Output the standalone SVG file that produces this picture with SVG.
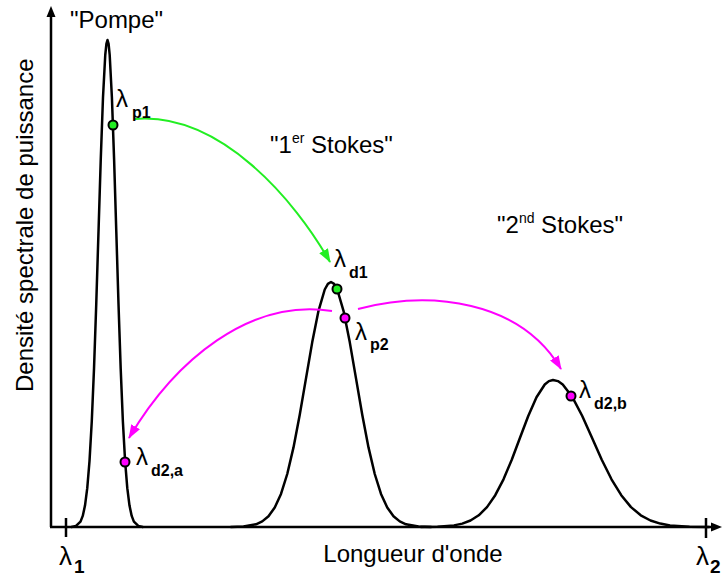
<svg xmlns="http://www.w3.org/2000/svg" width="722" height="576" viewBox="0 0 722 576">
<style>
text{font-family:"Liberation Sans",Arial,sans-serif;fill:#000}
.t{font-size:24px}
.l{font-size:24px}
.s{font-size:16px;font-weight:bold}
.curve{fill:none;stroke:#000;stroke-width:2.5;stroke-linejoin:round;stroke-linecap:round}
.axis{fill:none;stroke:#000;stroke-width:2.5}
.dg{fill:#22ee22;stroke:#000;stroke-width:2}
.dm{fill:#ff00ff;stroke:#000;stroke-width:2}
.ag{fill:none;stroke:#22ee22;stroke-width:2;marker-end:url(#hg)}
.am{fill:none;stroke:#ff00ff;stroke-width:2;marker-end:url(#hm)}
</style>
<defs>
<marker id="hg" markerUnits="userSpaceOnUse" markerWidth="14" markerHeight="10" refX="13" refY="5" orient="auto"><path d="M0,0 L14,5 L0,10 z" fill="#22ee22"/></marker>
<marker id="hm" markerUnits="userSpaceOnUse" markerWidth="14" markerHeight="10" refX="13" refY="5" orient="auto"><path d="M0,0 L14,5 L0,10 z" fill="#ff00ff"/></marker>
</defs>
<g id="axes">
<line class="axis" x1="51" y1="527" x2="51" y2="14"/>
<path d="M51,6 L55.5,17 L46.5,17 z" fill="#000"/>
<line class="axis" x1="50" y1="527" x2="714" y2="527"/>
<path d="M722,527 L711,522.5 L711,531.5 z" fill="#000"/>
<line class="axis" x1="66" y1="518" x2="66" y2="537"/>
<line class="axis" x1="706" y1="518" x2="706" y2="538"/>
<text x="59" y="565" style="font-size:26px">λ</text><text x="74" y="573" style="font-size:19px;font-weight:bold">1</text>
<text x="696" y="565" style="font-size:26px">λ</text><text x="710" y="573" style="font-size:19px;font-weight:bold">2</text>
<text class="l" x="413" y="562" text-anchor="middle">Longueur d'onde</text>
<text class="l" transform="translate(33,392) rotate(-90)">Densité spectrale de puissance</text>
</g>
<g id="pompe">
<polyline class="curve" points="71.5,527 76,525.9 80.5,521.6 82.75,515.9 85,505.6 87.25,488.2 89.5,461.1 91.75,421.7 94,368.9 96.25,304 98.5,231.6 100.75,159.4 103,97.2 105.25,55 106.4,43.8 107.5,40 108.6,43.8 109.7,55 111.9,97.2 114.1,159.4 116.3,231.6 118.5,304 120.7,368.9 122.9,421.7 125.1,461.1 127.3,488.2 129.5,505.6 131.7,515.9 133.9,521.6 138.3,525.9 142.7,527"/>
<text class="t" x="70" y="28">"Pompe"</text>
</g>
<g id="stokes1">
<polyline class="curve" points="231,527 243.5,526.5 256,524.3 262.25,521.4 268.5,516.2 274.75,507.5 281,493.9 287.25,474 293.5,447.4 299.75,414.8 306,378.4 312.25,342.1 318.5,310.8 324.75,289.5 327.9,283.9 331,282 334.1,283.9 337.25,289.5 343.5,310.8 349.75,342.1 356,378.4 362.25,414.8 368.5,447.4 374.75,474 381,493.9 387.25,507.5 393.5,516.2 399.75,521.4 406,524.3 418.5,526.5 431,527"/>
<text class="t" x="270" y="153">"1<tspan style="font-size:14px" dy="-10">er</tspan><tspan dy="10"> Stokes"</tspan></text>
</g>
<g id="stokes2">
<polyline class="curve" points="421,527 437.5,526.7 454,525.4 462.25,523.6 470.5,520.5 478.75,515.3 487,507.1 495.25,495.2 503.5,479.3 511.75,459.7 520,437.8 528.25,416 536.5,397.3 544.75,384.5 548.9,381.1 553,380 557.9,381.1 562.75,384.5 572.5,397.3 582.25,416 592,437.8 601.75,459.7 611.5,479.3 621.25,495.2 631,507.1 640.75,515.3 650.5,520.5 660.25,523.6 670,525.4 689.5,526.7 709,527"/>
<text class="t" x="497" y="233">"2<tspan style="font-size:14px" dy="-10">nd</tspan><tspan dy="10"> Stokes"</tspan></text>
</g>
<g id="connectors">
<path class="ag" d="M135,119 C220,112 295,200 330,262"/>
<path class="am" d="M332,311 C250,298 175,360 129,438"/>
<path class="am" d="M358,309 C430,290 520,300 561,369"/>
</g>
<g id="lambda-p1"><circle class="dg" cx="113" cy="125" r="4.5"/><text class="t" x="116" y="107">λ</text><text class="s" x="132" y="118">p1</text></g>
<g id="lambda-d1"><circle class="dg" cx="337" cy="289" r="4.5"/><text class="t" x="334" y="267">λ</text><text class="s" x="349" y="278">d1</text></g>
<g id="lambda-p2"><circle class="dm" cx="345" cy="318" r="4.5"/><text class="t" x="355" y="340">λ</text><text class="s" x="370" y="350">p2</text></g>
<g id="lambda-d2b"><circle class="dm" cx="571" cy="396" r="4.5"/><text class="t" x="579" y="398">λ</text><text class="s" x="594" y="409">d2,b</text></g>
<g id="lambda-d2a"><circle class="dm" cx="125" cy="462" r="4.5"/><text class="t" x="136" y="465">λ</text><text class="s" x="151" y="476">d2,a</text></g>
</svg>
